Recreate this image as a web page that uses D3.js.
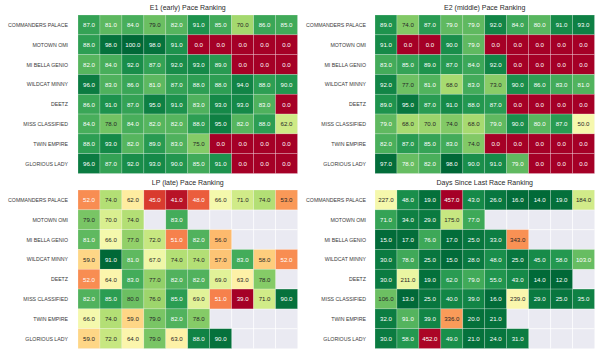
<!DOCTYPE html>
<html>
<head>
<meta charset="utf-8">
<script src="https://cdn.jsdelivr.net/npm/d3@7"></script>
<style>
  html, body { margin: 0; padding: 0; background: #ffffff; }
  svg { display: block; }
  text { font-family: "Liberation Sans", Arial, sans-serif; }
</style>
</head>
<body>
<svg id="chart" width="600" height="358"></svg>
<script>
const horses = ["COMMANDERS PALACE","MOTOWN OMI","MI BELLA GENIO","WILDCAT MINNY","DEETZ","MISS CLASSIFIED","TWIN EMPIRE","GLORIOUS LADY"];
const races = [0,1,2,3,4,5,6,7,8,9];

const e1Values = [
  [87,81,84,79,82,91,85,70,86,85],
  [88,98,100,98,91,0,0,0,0,0],
  [82,84,92,87,92,93,89,0,0,0],
  [96,83,86,81,87,88,88,94,88,90],
  [86,91,87,95,91,83,93,93,83,0],
  [84,78,84,82,82,88,95,82,88,62],
  [88,93,82,89,83,75,0,0,0,0],
  [96,87,92,93,90,85,91,0,0,0]
];
const e2Values = [
  [89,74,87,79,79,92,84,80,91,93],
  [91,0,0,90,79,0,0,0,0,0],
  [83,85,89,87,84,92,0,0,0,0],
  [92,77,81,68,83,73,90,86,83,81],
  [89,95,87,91,88,87,0,0,0,0],
  [79,68,70,74,68,79,90,80,87,50],
  [82,87,85,83,74,0,0,0,0,0],
  [97,78,82,98,90,91,79,0,0,0]
];
const lpValues = [
  [52,74,62,45,41,48,66,71,74,53],
  [79,70,74,null,83,null,null,null,null,null],
  [81,66,77,72,51,82,56,null,null,null],
  [59,91,81,67,74,74,57,83,58,52],
  [52,64,83,77,82,82,69,63,78,null],
  [82,85,80,76,85,69,51,39,71,90],
  [66,74,59,79,82,78,null,null,null,null],
  [59,72,64,79,63,88,90,null,null,null]
];
const daysValues = [
  [227,48,19,457,43,26,16,14,19,184],
  [71,34,29,175,77,null,null,null,null,null],
  [15,17,76,17,25,33,343,null,null,null],
  [30,78,25,15,28,48,25,45,58,103],
  [30,211,19,62,79,55,43,14,12,null],
  [106,13,25,40,39,16,239,29,25,35],
  [32,91,39,336,20,21,null,null,null,null],
  [30,58,452,49,21,24,31,null,null,null]
];
const titles = ["E1 (early) Pace Ranking","E2 (middle) Pace Ranking","LP (late) Pace Ranking","Days Since Last Race Ranking"];

const panels = [
  {title: titles[0], data: e1Values, reverse: false, x0: 78, y0: 15, labEnd: -10},
  {title: titles[1], data: e2Values, reverse: false, x0: 375, y0: 15, labEnd: -9},
  {title: titles[2], data: lpValues, reverse: false, x0: 78, y0: 190, labEnd: -10},
  {title: titles[3], data: daysValues, reverse: true, x0: 375, y0: 190, labEnd: -9}
];
const W = 219.5, H = 158.5;

const svg = d3.select("#chart");

// measure label font so the longest label matches the reference width (~61px)
const probe = svg.append("text").attr("font-size", 10).text("COMMANDERS PALACE");
const probeLen = probe.node().getComputedTextLength();
probe.remove();
const labSize = 10 * 60 / probeLen;

function luminance(c) {
  const rgb = d3.rgb(c);
  const f = v => { v /= 255; return v <= 0.03928 ? v / 12.92 : Math.pow((v + 0.055) / 1.055, 2.4); };
  return 0.2126 * f(rgb.r) + 0.7152 * f(rgb.g) + 0.0722 * f(rgb.b);
}

panels.forEach(p => {
  const g = svg.append("g").attr("transform", `translate(${p.x0},${p.y0})`);
  const x = d3.scaleBand().domain(races).range([0, W]);
  const y = d3.scaleBand().domain(horses).range([0, H]);
  const all = p.data.flat().filter(v => v !== null);
  const ext = d3.extent(all);
  const color = d3.scaleSequential(p.reverse ? t => d3.interpolateRdYlGn(1 - t) : d3.interpolateRdYlGn).domain(ext);

  g.append("rect").attr("x", 0).attr("y", 0).attr("width", W).attr("height", H).attr("fill", "#eaeaf2");
  races.forEach(r => {
    g.append("line").attr("x1", x(r)).attr("x2", x(r)).attr("y1", 0).attr("y2", H)
      .attr("stroke", "#ffffff").attr("stroke-width", 0.8);
  });
  horses.forEach(h => {
    g.append("line").attr("x1", 0).attr("x2", W).attr("y1", y(h)).attr("y2", y(h))
      .attr("stroke", "#ffffff").attr("stroke-width", 0.8);
  });

  const cells = [];
  p.data.forEach((row, i) => row.forEach((v, j) => { if (v !== null) cells.push({h: horses[i], r: races[j], v}); }));

  g.selectAll("rect.cell").data(cells).enter().append("rect")
    .attr("class", "cell")
    .attr("x", d => x(d.r)).attr("y", d => y(d.h))
    .attr("width", x.bandwidth()).attr("height", y.bandwidth())
    .attr("fill", d => color(d.v))
    .attr("stroke", "rgba(255,255,255,0.35)").attr("stroke-width", 0.6);

  g.selectAll("text.val").data(cells).enter().append("text")
    .attr("class", "val")
    .attr("x", d => x(d.r) + x.bandwidth() / 2)
    .attr("y", d => y(d.h) + y.bandwidth() / 2)
    .attr("text-anchor", "middle").attr("dominant-baseline", "central")
    .attr("font-size", 6.1)
    .attr("fill", d => luminance(color(d.v)) > 0.408 ? "#262626" : "#ffffff")
    .text(d => d.v.toFixed(1));

  g.selectAll("text.lab").data(horses).enter().append("text")
    .attr("class", "lab")
    .attr("x", p.labEnd)
    .attr("y", d => y(d) + y.bandwidth() / 2)
    .attr("text-anchor", "end").attr("dominant-baseline", "central")
    .attr("font-size", labSize).attr("fill", "#3a3a3a")
    .text(d => d);

  g.append("text")
    .attr("x", W / 2).attr("y", -8)
    .attr("text-anchor", "middle").attr("dominant-baseline", "central")
    .attr("font-size", 7).attr("fill", "#2a2a2a")
    .text(p.title);
});
</script>
</body>
</html>
